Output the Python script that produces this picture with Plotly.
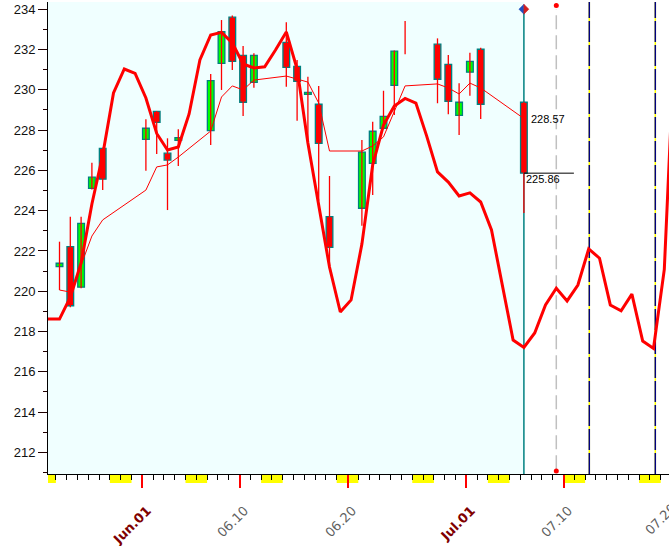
import numpy as np
import pandas as pd
import plotly.graph_objects as go

# ---------------- data ----------------
dates = ["2015-05-24", "2015-05-25", "2015-05-26", "2015-05-27", "2015-05-28",
         "2015-06-01", "2015-06-02", "2015-06-03", "2015-06-04",
         "2015-06-07", "2015-06-08", "2015-06-09", "2015-06-10", "2015-06-11",
         "2015-06-14", "2015-06-15", "2015-06-16", "2015-06-17", "2015-06-18",
         "2015-06-21", "2015-06-22", "2015-06-23", "2015-06-24", "2015-06-25",
         "2015-06-28", "2015-06-29", "2015-06-30", "2015-07-01", "2015-07-02",
         "2015-07-06"]
open_ = [221.22, 222.21, 220.20, 225.11, 227.09,
         227.54, 228.93, 226.85, 227.49,
         227.97, 231.31, 233.60, 231.71, 230.37,
         232.35, 231.16, 229.77, 229.28, 223.70,
         224.12, 226.35, 228.09, 230.22, 232.50,
         232.26, 231.26, 228.73, 230.87, 232.01,
         229.38]
close = [221.39, 219.28, 223.37, 225.66, 225.56,
         228.09, 228.38, 226.51, 227.62,
         230.45, 232.88, 231.41, 229.38, 231.71,
         231.11, 230.42, 229.87, 227.34, 222.18,
         226.90, 227.94, 228.68, 231.92, 232.50,
         230.52, 229.43, 229.38, 231.41, 229.28,
         225.86]
high = [222.46, 223.70, 223.70, 226.38, 227.12,
        228.53, 228.95, 227.59, 228.04,
        230.78, 233.46, 233.68, 232.17, 231.81,
        233.35, 231.48, 230.65, 230.19, 225.72,
        227.51, 228.41, 229.95, 231.95, 233.41,
        232.55, 231.72, 230.32, 231.84, 232.09,
        229.40]
low = [220.06, 219.20, 220.15, 225.05, 225.02,
       225.98, 226.81, 224.03, 226.22,
       227.26, 229.99, 230.98, 228.70, 230.10,
       230.15, 228.46, 227.51, 224.49, 221.14,
       223.25, 224.78, 228.04, 228.75, 231.76,
       229.33, 228.78, 227.75, 229.70, 228.55,
       223.88]
ma = [220.06, 219.96, 221.30, 222.74, 223.54,
      225.02, 226.17, 226.27, 226.66,
      227.95, 229.64, 230.19, 229.99, 230.48,
      230.68, 230.53, 230.38, 229.34, 226.96,
      226.96, 227.21, 227.66, 228.90, 230.19,
      230.29, 230.09, 229.79, 230.33, 230.09,
      228.57]

cycle_start = "2015-05-22"
cycle = [218.62, 218.62, 218.62, 219.71, 221.40, 224.33, 226.76, 229.84, 231.03, 230.81,
         229.59, 227.83, 227.01, 227.16, 228.80, 231.48, 232.72, 232.85, 232.32, 231.28,
         231.08, 231.14, 231.97, 232.87, 231.03, 227.36, 224.38, 221.20, 218.97, 219.57,
         222.34, 226.27, 228.25, 229.19, 229.57, 229.34, 227.70, 225.92, 225.42, 224.73,
         224.88, 224.43, 223.04, 220.26, 217.58, 217.21, 217.93, 219.32, 220.15, 219.52,
         220.31, 222.10, 221.64, 219.32, 219.03, 219.86, 217.53, 217.16, 221.08, 233.00]

weekend_starts = ["2015-05-22", "2015-05-29", "2015-06-05", "2015-06-12", "2015-06-19",
                  "2015-06-26", "2015-07-03", "2015-07-10", "2015-07-17"]
gray_marker = "2015-07-09"
cycle_markers = ["2015-07-12 09:20", "2015-07-18 12:00"]

tick_dates = ["2015-06-01", "2015-06-10", "2015-06-20", "2015-07-01", "2015-07-10"]
tick_labels = ["Jun.01", "06.10", "06.20", "Jul.01", "07.10"]
month_start = [True, False, False, True, False]
extra_label_date = "2015-07-20"
extra_label = "07.20"

# ---------------- styling / geometry constants ----------------
XMIN = pd.Timestamp("2015-05-23 06:27")
XMAX = pd.Timestamp("2015-07-19 18:27")
YMIN, YMAX = 210.93, 234.355
PX_PER_UNIT = 20.15
DAY = pd.Timedelta(days=1)
OFFSET = pd.Timedelta(hours=8)
BAR_W = 0.62 * 86400000
GRAY = "#606060"
MAROON = "#800000"
XFONT = dict(family="DejaVu Sans", size=13, color=GRAY)

cx = pd.to_datetime(dates) + OFFSET
o = np.array(open_)
c = np.array(close)
base = np.minimum(o, c)
hgt = np.abs(c - o)
hgt = np.where(hgt == 0, np.nan, hgt)   # no body when open == close
fill = np.where(c >= o, "#00FF00", "#FF0000")

cycle_x = pd.date_range(cycle_start, periods=len(cycle), freq="D") + OFFSET

fig = go.Figure()

# wicks
wx, wy = [], []
for xi, lo, hi in zip(cx, low, high):
    wx += [xi, xi, None]
    wy += [lo, hi, None]
fig.add_trace(go.Scatter(x=wx, y=wy, mode="lines", line=dict(color="#FF0000", width=1.3),
                         hoverinfo="skip"))
# bodies
fig.add_trace(go.Bar(x=cx, y=hgt, base=base, width=BAR_W,
                     marker=dict(color=fill, line=dict(color="#008080", width=1.3)),
                     hoverinfo="skip"))
# moving average (thin)
fig.add_trace(go.Scatter(x=cx, y=ma, mode="lines", line=dict(color="#FF0000", width=1),
                         hoverinfo="skip"))
# cycle line (thick)
fig.add_trace(go.Scatter(x=cycle_x, y=cycle, mode="lines", line=dict(color="#FF0000", width=3),
                         hoverinfo="skip"))

# gray marker dots
gx = pd.Timestamp(gray_marker) + OFFSET
fig.add_trace(go.Scatter(x=[gx, gx], y=[YMAX - 3.5 / PX_PER_UNIT, YMIN + 3 / PX_PER_UNIT],
                         mode="markers", marker=dict(color="#FF0000", size=5),
                         hoverinfo="skip", cliponaxis=False))

shapes = []
# light background up to the last candle
shapes.append(dict(type="rect", xref="x", yref="paper", x0=XMIN, x1=cx[-1], y0=0, y1=1,
                   fillcolor="#F0FFFF", line=dict(width=0), layer="below"))
# weekend blocks under the axis
for ws in weekend_starts:
    s = max(pd.Timestamp(ws), XMIN)
    e = pd.Timestamp(ws) + 2 * DAY
    shapes.append(dict(type="rect", xref="x", yref="paper", x0=s, x1=e,
                       ysizemode="pixel", yanchor=0, y0=-1, y1=-9,
                       fillcolor="#FFFF00", line=dict(width=0), layer="below"))
# teal line at last candle
shapes.append(dict(type="line", xref="x", yref="paper", x0=cx[-1], x1=cx[-1],
                   y0=0, y1=(234.0 - YMIN) / (YMAX - YMIN),
                   line=dict(color="#008080", width=1.5), layer="below"))
# gray dashed line
shapes.append(dict(type="line", xref="x", yref="paper", x0=gx, x1=gx, y0=0.01, y1=0.985,
                   line=dict(color="#C0C0C0", width=1.5, dash="14px,6px"), layer="below"))
# navy cycle markers
for cm in cycle_markers:
    t = pd.Timestamp(cm)
    shapes.append(dict(type="line", xref="x", yref="paper", x0=t, x1=t, y0=0, y1=1,
                       line=dict(color="#FFFF00", width=1.5), layer="below"))
    shapes.append(dict(type="line", xref="x", yref="paper", x0=t, x1=t, y0=0, y1=1,
                       line=dict(color="#000080", width=1.5, dash="21px,3px"), layer="below"))
# close line
shapes.append(dict(type="line", xref="x", yref="y", x0=cx[-1], x1=cx[-1] + 4.63 * DAY,
                   y0=close[-1], y1=close[-1], line=dict(color="black", width=1)))
# diamond at top of teal line
shapes.append(dict(type="path", xref="x", yref="y", xsizemode="pixel", ysizemode="pixel",
                   xanchor=cx[-1], yanchor=234.0, path="M -5 0 L 0 5 L 0 -5 Z",
                   fillcolor="#2050C0", line=dict(color="#2050C0", width=0.5)))
shapes.append(dict(type="path", xref="x", yref="y", xsizemode="pixel", ysizemode="pixel",
                   xanchor=cx[-1], yanchor=234.0, path="M 5 0 L 0 5 L 0 -5 Z",
                   fillcolor="#D02020", line=dict(color="#D02020", width=0.5)))

# paper position of the tick label that falls just beyond the right edge
extra_px = (pd.Timestamp(extra_label_date) - XMIN) / (XMAX - XMIN)

annotations = [
    dict(x=cx[-1], y=ma[-1], xref="x", yref="y", text=f"{ma[-1]:.2f}", showarrow=False,
         xanchor="left", yanchor="middle", xshift=5,
         font=dict(family="Liberation Sans, Arial", size=11, color="black")),
    dict(x=cx[-1], y=close[-1], xref="x", yref="y", text=f"{close[-1]:.2f}", showarrow=False,
         xanchor="left", yanchor="middle", xshift=0, yshift=-6,
         font=dict(family="Liberation Sans, Arial", size=11, color="black")),
    dict(x=extra_px, y=0, xref="paper", yref="paper", text=extra_label, showarrow=False,
         textangle=-45, xanchor="right", yanchor="top", xshift=10, yshift=-24,
         font=XFONT),
]

ticktext = []
for lab, ms in zip(tick_labels, month_start):
    if ms:
        ticktext.append(f"<span style='color:{MAROON}'><b>{lab}</b></span>")
    else:
        ticktext.append(f"<span style='color:{GRAY}'>{lab}</span>")

fig.update_layout(
    width=669, height=546,
    margin=dict(l=48, r=0, t=2, b=72, autoexpand=False),
    plot_bgcolor="white", paper_bgcolor="white",
    showlegend=False, barmode="overlay",
    shapes=shapes, annotations=annotations,
    xaxis=dict(type="date", range=[XMIN, XMAX], showgrid=False, zeroline=False,
               automargin=False,
               showline=True, linecolor="black", linewidth=1,
               tickmode="array", tickvals=tick_dates, ticktext=ticktext,
               ticks="outside", ticklen=13, tickcolor="#FF0000", tickwidth=1.5,
               tickangle=-45, ticklabelstandoff=10, ticklabelshift=5,
               tickfont=XFONT,
               minor=dict(ticks="outside", ticklen=5, tickcolor="black", tickwidth=1,
                          dtick=86400000, tick0="2015-06-01", showgrid=False)),
    yaxis=dict(range=[YMIN, YMAX], showgrid=False, zeroline=False, automargin=False,
               showline=True, linecolor="black", linewidth=1,
               tick0=212, dtick=2, ticks="outside", ticklen=9, tickcolor="#200000",
               tickfont=dict(family="Liberation Sans, Arial", size=13, color="#111111"),
               minor=dict(ticks="outside", ticklen=4, tickcolor="#200000", dtick=1,
                          showgrid=False)),
)

fig.write_html("out.html", config={"displayModeBar": False},
               post_script="document.body.style.margin='0px';")
